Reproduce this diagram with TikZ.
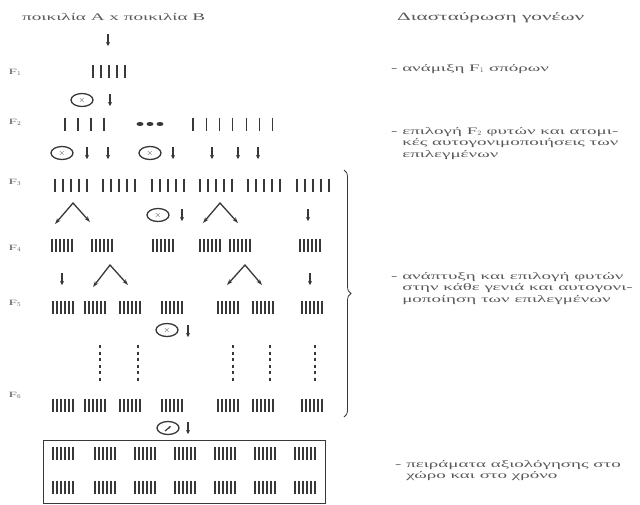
\documentclass[tikz,border=0pt]{standalone}
\usepackage{fontspec}
\setmainfont{Liberation Serif}[FakeStretch=1.9]
\usetikzlibrary{arrows.meta,shapes.geometric,decorations.pathreplacing}

\definecolor{ink}{gray}{0.22}
\definecolor{scan}{gray}{0.35}

\tikzset{
  stem/.style={ink, line width=1.1pt},
  dense/.style={ink, line width=1.4pt},
  down/.style={ink, line width=1.2pt, -{Stealth[length=4pt,width=4pt]}},
  split/.style={ink, line width=1.3pt, {Stealth[length=6pt,width=4pt]}-{Stealth[length=6pt,width=4pt]}},
  selfing/.style={ellipse, draw=ink, line width=1.3pt, minimum width=22pt, minimum height=13pt, inner sep=0pt, text=ink, font=\footnotesize\bfseries},
  gen/.style={text=scan, font=\fontsize{8}{8}\selectfont},
  note/.style={text=scan, font=\fontsize{10}{11.5}\selectfont, anchor=north west, inner sep=0pt},
}

% n stems of a group: x of first, y, count, gap, style
\newcommand{\stems}[5]{%
  \foreach \k in {1,...,#3}
    \draw[#5] ({#1+(\k-1)*#4},#2-6.5) -- ++(0,13);}
% short downward arrow at x,y
\newcommand{\drop}[2]{\draw[down] (#1,#2-6) -- (#1,#2+6);}

\begin{document}
\begin{tikzpicture}[x=1pt,y=-1pt]
   \useasboundingbox (0,0) rectangle (640,504);

   % left: the breeding scheme
   \node[text=scan, font=\fontsize{10.1}{10}\selectfont, anchor=west, inner sep=0pt] (cross) at (22,17) {ποικιλία Α x ποικιλία Β};
   \drop{108}{40}

   \node[gen] (f1) at (15,72) {F$_1$};
   \stems{93}{71}{5}{8}{stem}
   \node[selfing] (s1) at (82,100) {$\times$};
   \drop{110}{100}

   \node[gen] (f2) at (15,122) {F$_2$};
   \stems{65}{124}{4}{13}{stem}
   \foreach \x in {140,150,160} \fill[ink] (\x,124) ellipse (3.5 and 2);
   \stems{193}{124}{7}{13.3}{stem}
   \node[selfing] (s2) at (62,153) {$\times$};
   \drop{87}{153} \drop{108}{153}
   \node[selfing] (s3) at (150,153) {$\times$};
   \drop{173}{153}
   \drop{212}{153} \drop{238}{153} \drop{258}{153}

   \node[gen] (f3) at (15,182) {F$_3$};
   \foreach \x in {55,103,152,200,248,297} \stems{\x}{185}{5}{8}{stem};
   \draw[split] (55,224) -- (73,203) -- (90,222);
   \node[selfing] (s4) at (158,215) {$\times$};
   \drop{182}{215}
   \draw[split] (203,223) -- (220,203) -- (238,223);
   \drop{308}{215}

   \node[gen] (f4) at (15,248) {F$_4$};
   \foreach \x in {52,92,153,200,230,300} \stems{\x}{245}{6}{4}{dense};
   \drop{62}{279}
   \draw[split] (93,287) -- (110,265) -- (128,285);
   \draw[split] (227,285) -- (245,265) -- (262,285);
   \drop{310}{279}

   \node[gen] (f5) at (15,303) {F$_5$};
   \foreach \x in {53,85,120,162,218,253,302} \stems{\x}{307}{6}{4}{dense};
   \node[selfing] (s5) at (167,330) {$\times$};
   \drop{188}{331}
   \foreach \x in {100,138,233,270,315}
     \draw[ink, line width=1.3pt, dash pattern=on 3pt off 3.5pt] (\x,345) -- (\x,382);

   \node[gen] (f6) at (15,395) {F$_6$};
   \foreach \x in {53,85,120,162,218,253,302} \stems{\x}{405}{6}{4}{dense};
   \node[selfing] (s6) at (168,428) {};
   \draw[ink, line width=1.2pt, -{Stealth[length=3pt]}] ([shift={(-3,3)}]s6.center) -- ([shift={(3,-2)}]s6.center);
   \drop{188}{428}

   % evaluation trials
   \draw[ink, line width=0.8pt] (43,440) rectangle (325,503);
   \foreach \y in {453,487}
     \foreach \x in {53,95,135,175,215,255,295} \stems{\x}{\y}{6}{4}{dense};

   \draw[ink, line width=0.8pt, decorate, decoration={brace, amplitude=7pt}] (344,170) -- (344,417);

   % right: what is done in each step
   \node[text=scan, font=\fontsize{11.2}{10}\selectfont, anchor=west, inner sep=0pt] (head) at (397,18) {Διασταύρωση γονέων};
   \node[note] (n1) at (391,64) {-\ ανάμιξη F$_1$ σπόρων};
   \node[note] (n2) at (391,126) {\begin{tabular}{@{}l@{\ }l@{}}
- & επιλογή F$_2$ φυτών και ατομι-\\
  & κές αυτογονιμοποιήσεις των\\
  & επιλεγμένων
\end{tabular}};
   \node[note] (n3) at (391,271) {\begin{tabular}{@{}l@{\ }l@{}}
- & ανάπτυξη και επιλογή φυτών\\
  & στην κάθε γενιά και αυτογονι-\\
  & μοποίηση των επιλεγμένων
\end{tabular}};
   \node[note] (n4) at (395,459) {\begin{tabular}{@{}l@{\ }l@{}}
- & πειράματα αξιολόγησης στο\\
  & χώρο και στο χρόνο
\end{tabular}};
\end{tikzpicture}
\end{document}
